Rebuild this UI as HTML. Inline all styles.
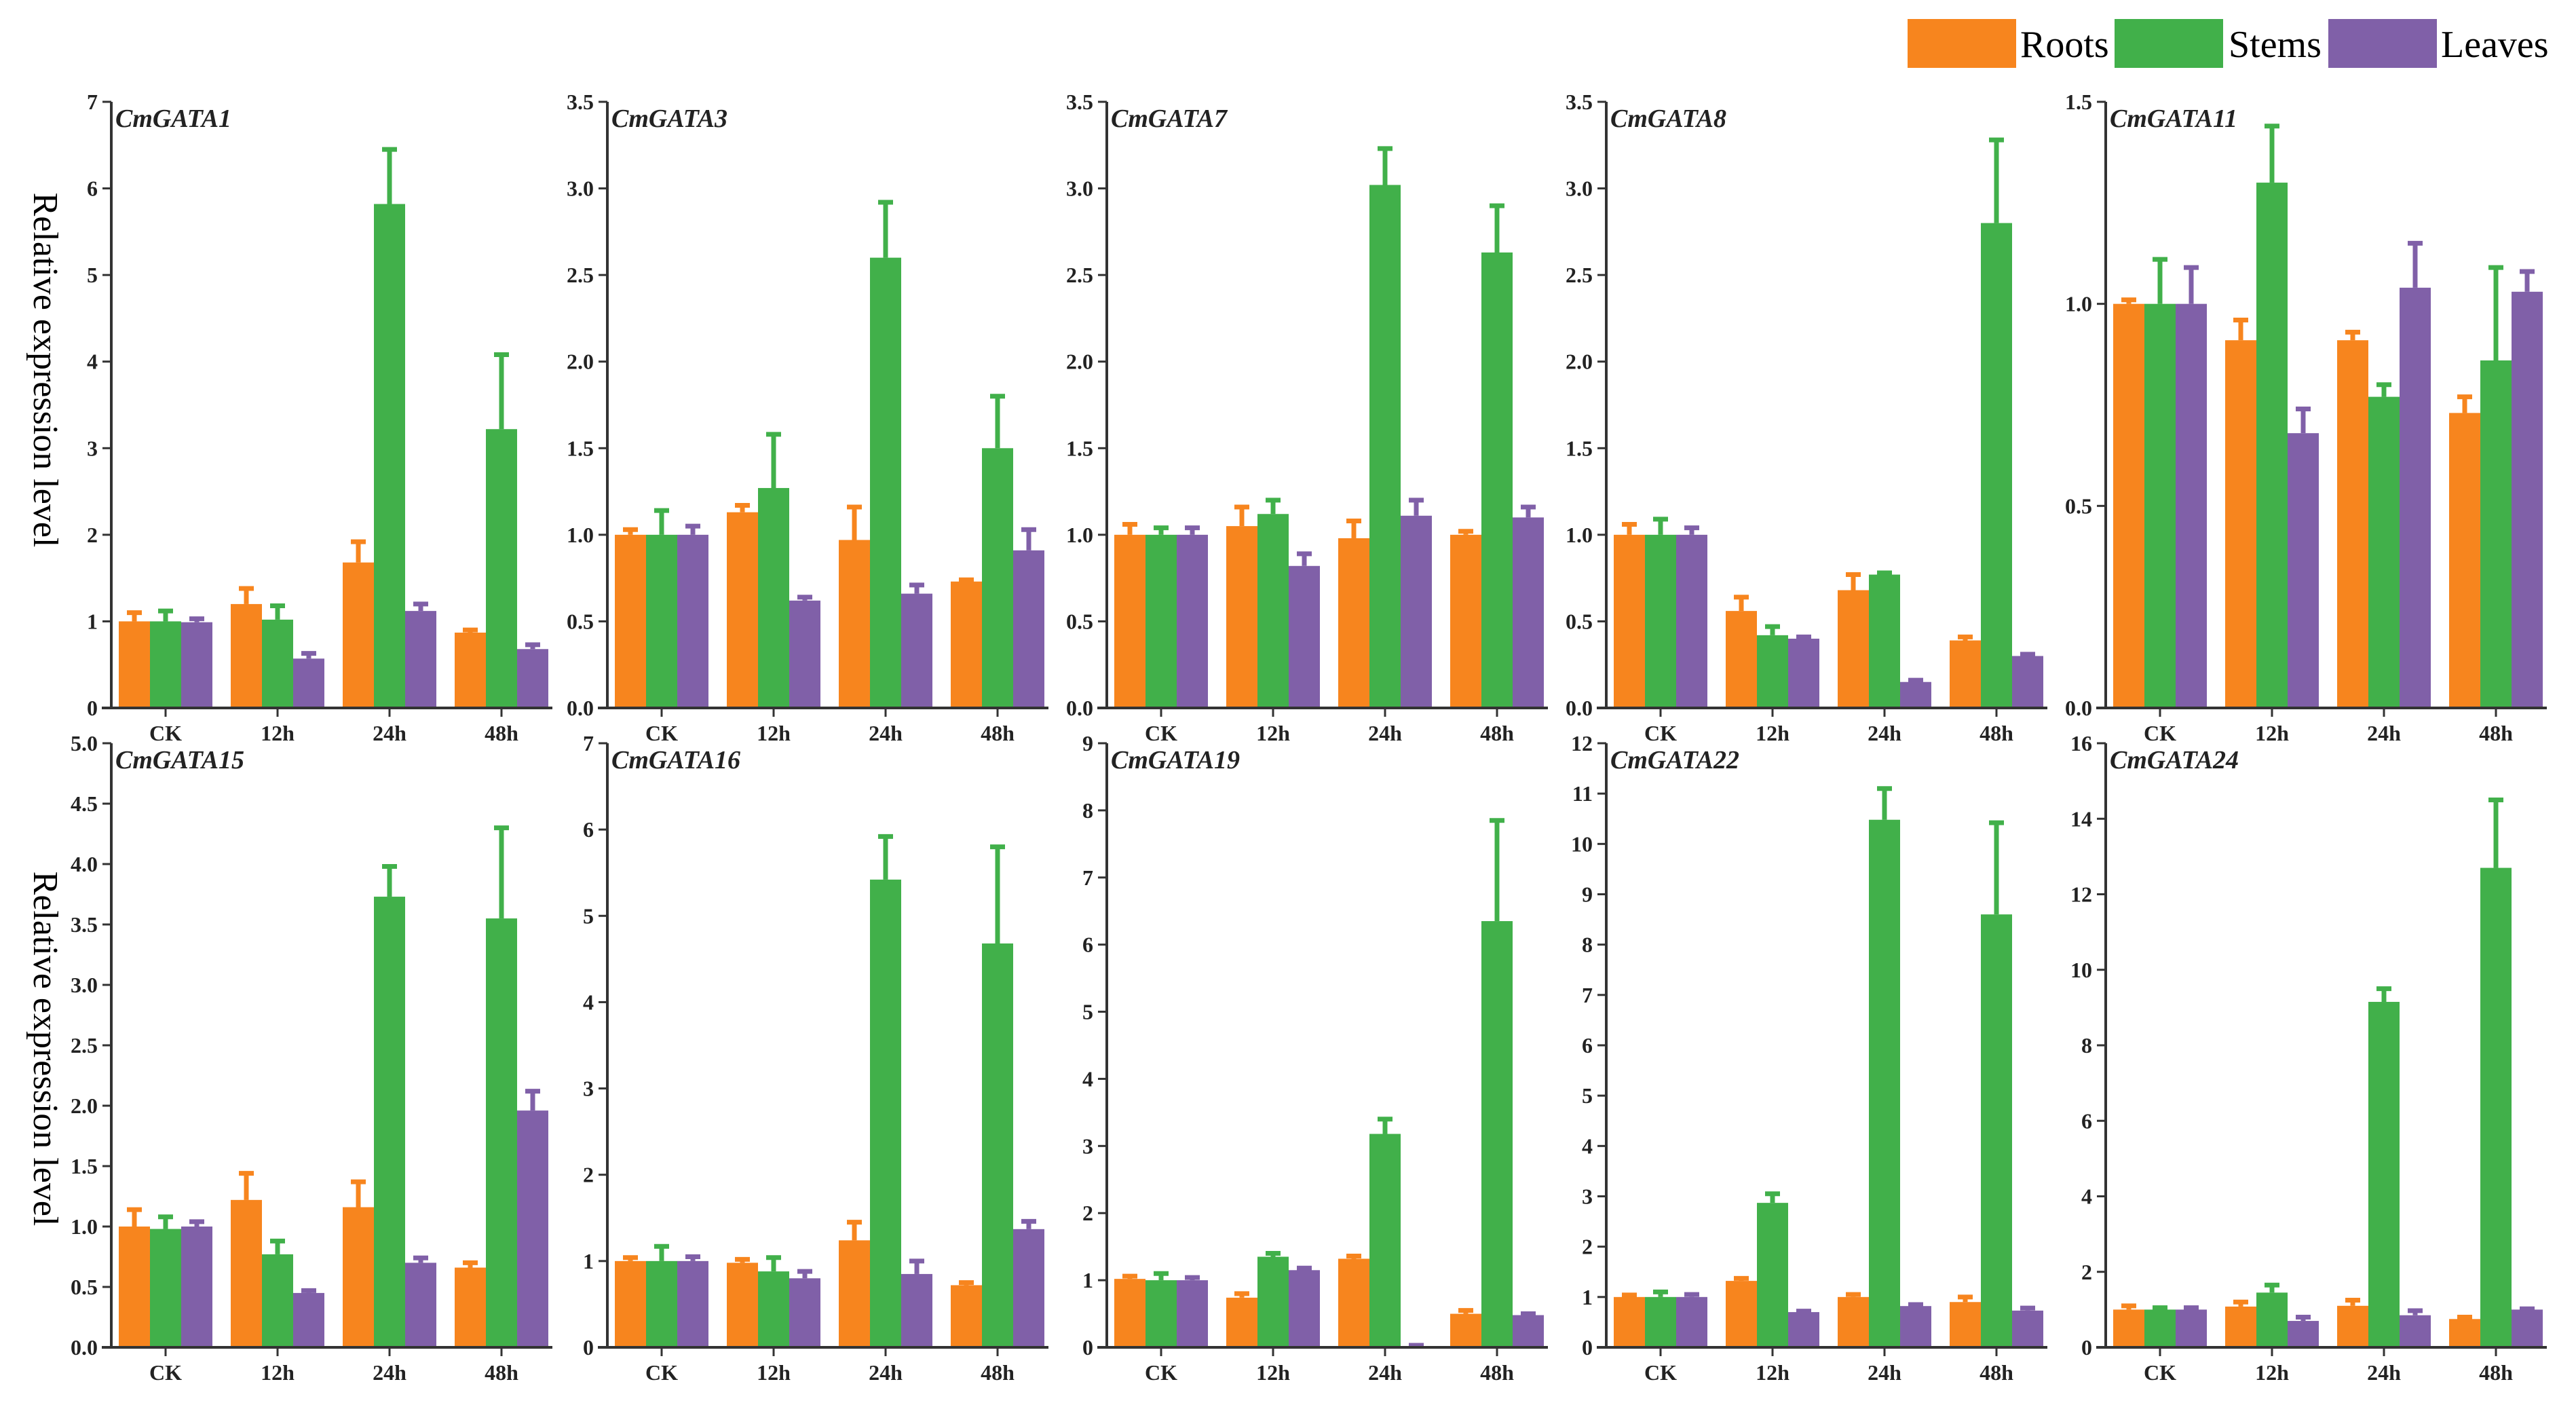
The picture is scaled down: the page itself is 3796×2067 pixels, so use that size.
<!DOCTYPE html>
<html><head><meta charset="utf-8"><style>
html,body{margin:0;padding:0;background:#fff;}
svg{display:block;}
svg text{font-family:"Liberation Serif","Times New Roman",serif;}
</style></head><body>
<svg id="chart" width="3796" height="2067" viewBox="0 0 3796 2067" xmlns="http://www.w3.org/2000/svg" font-family="Liberation Serif, serif">
<g id="legend">
  <rect x="2811" y="28" width="160" height="72" fill="#F7851E"/>
  <text x="2977" y="84" font-size="56">Roots</text>
  <rect x="3116" y="28" width="160" height="72" fill="#41B04A"/>
  <text x="3284" y="84" font-size="56">Stems</text>
  <rect x="3431" y="28" width="160" height="72" fill="#8060A8"/>
  <text x="3597" y="84" font-size="56">Leaves</text>
</g>
<text transform="translate(50,545) rotate(90)" text-anchor="middle" font-size="52">Relative expression level</text>
<text transform="translate(50,1545) rotate(90)" text-anchor="middle" font-size="52">Relative expression level</text>
</svg>
<script>
const categories = ["CK","12h","24h","48h"];
const geneNames = ["CmGATA1","CmGATA3","CmGATA7","CmGATA8","CmGATA11","CmGATA15","CmGATA16","CmGATA19","CmGATA22","CmGATA24"];
const axisMax = [7,3.5,3.5,3.5,1.5,5,7,9,12,16];
const axisStep = [1,0.5,0.5,0.5,0.5,0.5,1,1,1,2];
const axisDecimals = [0,1,1,1,1,1,0,0,0,0];
const rootsMean = [[1.0,1.2,1.68,0.87],[1.0,1.13,0.97,0.73],[1.0,1.05,0.98,1.0],[1.0,0.56,0.68,0.39],[1.0,0.91,0.91,0.73],[1.0,1.22,1.16,0.66],[1.0,0.98,1.24,0.72],[1.02,0.74,1.32,0.5],[1.0,1.32,1.0,0.9],[1.0,1.08,1.1,0.75]];
const rootsTop = [[1.1,1.38,1.92,0.9],[1.03,1.17,1.16,0.74],[1.06,1.16,1.08,1.02],[1.06,0.64,0.77,0.41],[1.01,0.96,0.93,0.77],[1.14,1.44,1.37,0.7],[1.04,1.02,1.45,0.75],[1.06,0.8,1.36,0.55],[1.04,1.37,1.05,1.0],[1.1,1.2,1.25,0.8]];
const stemsMean = [[1.0,1.02,5.82,3.22],[1.0,1.27,2.6,1.5],[1.0,1.12,3.02,2.63],[1.0,0.42,0.77,2.8],[1.0,1.3,0.77,0.86],[0.98,0.77,3.73,3.55],[1.0,0.88,5.42,4.68],[1.0,1.35,3.18,6.35],[1.0,2.87,10.48,8.6],[1.0,1.45,9.15,12.7]];
const stemsTop = [[1.12,1.18,6.45,4.08],[1.14,1.58,2.92,1.8],[1.04,1.2,3.23,2.9],[1.09,0.47,0.78,3.28],[1.11,1.44,0.8,1.09],[1.08,0.88,3.98,4.3],[1.17,1.04,5.92,5.8],[1.1,1.4,3.4,7.85],[1.1,3.05,11.1,10.42],[1.05,1.65,9.5,14.5]];
const leavesMean = [[0.99,0.57,1.12,0.68],[1.0,0.62,0.66,0.91],[1.0,0.82,1.11,1.1],[1.0,0.4,0.15,0.3],[1.0,0.68,1.04,1.03],[1.0,0.45,0.7,1.96],[1.0,0.8,0.85,1.37],[1.0,1.15,0.02,0.48],[1.0,0.7,0.82,0.73],[1.0,0.7,0.85,1.0]];
const leavesTop = [[1.03,0.63,1.2,0.73],[1.05,0.64,0.71,1.03],[1.04,0.89,1.2,1.16],[1.04,0.41,0.16,0.31],[1.09,0.74,1.15,1.08],[1.04,0.47,0.74,2.12],[1.05,0.88,1.0,1.46],[1.04,1.18,0.03,0.5],[1.05,0.72,0.85,0.78],[1.05,0.8,0.97,1.02]];

const NS = "http://www.w3.org/2000/svg";
const svg = document.getElementById('chart');
const colors = ["#F7851E","#41B04A","#8060A8"];
const seriesNames = ["roots","stems","leaves"];
const panelX = [164,895,1631,2367,3103];
const rowTop = [150,1095];
const rowZero = [1043,1985];
const axisW = 650, barW = 46;

function mk(tag, attrs, parent){
  const e = document.createElementNS(NS, tag);
  for (const k in attrs) e.setAttribute(k, attrs[k]);
  parent.appendChild(e);
  return e;
}

for (let p = 0; p < 10; p++) {
  const row = p < 5 ? 0 : 1;
  const x0 = panelX[p % 5];
  const top = rowTop[row], zero = rowZero[row];
  const max = axisMax[p];
  const yScale = v => zero - (v / max) * (zero - top);
  const xCenter = i => x0 + 80 + i * 165;
  const g = mk('g', {}, svg);
  
  

  const sets = [[rootsMean[p], rootsTop[p]], [stemsMean[p], stemsTop[p]], [leavesMean[p], leavesTop[p]]];
  for (let s = 0; s < 3; s++) {
    for (let i = 0; i < 4; i++) {
      const cx = xCenter(i) + (s - 1) * barW;
      const yv = yScale(sets[s][0][i]);
      const yt = yScale(sets[s][1][i]);
      const ln = mk('line', {x1: cx, x2: cx, y1: yv, y2: yt, stroke: colors[s], 'stroke-width': 7}, g);
      
      
      const cap = mk('line', {x1: cx - 11, x2: cx + 11, y1: yt, y2: yt, stroke: colors[s], 'stroke-width': 7}, g);
      
      
      const r = mk('rect', {x: cx - barW / 2, y: yv, width: barW, height: zero - yv, fill: colors[s]}, g);
      
      
    }
  }
  const ya = mk('line', {x1: x0, x2: x0, y1: top, y2: zero, stroke: '#333', 'stroke-width': 4}, g);
  
  
  const xa = mk('line', {x1: x0 - 14, x2: x0 + axisW, y1: zero, y2: zero, stroke: '#333', 'stroke-width': 4}, g);
  
  
  const nT = Math.round(max / axisStep[p]);
  for (let t = 0; t <= nT; t++) {
    const v = t * axisStep[p];
    const y = yScale(v);
    mk('line', {x1: x0 - 13, x2: x0, y1: y, y2: y, stroke: '#333', 'stroke-width': 3}, g);
    const tl = mk('text', {x: x0 - 20, y: y + 11, 'text-anchor': 'end', 'font-size': 32, 'font-weight': 'bold', fill: '#222'}, g);
    
    
    tl.textContent = v.toFixed(axisDecimals[p]);
  }
  for (let i = 0; i < 4; i++) {
    const cx = xCenter(i);
    mk('line', {x1: cx, x2: cx, y1: zero, y2: zero + 13, stroke: '#333', 'stroke-width': 3}, g);
    const xl = mk('text', {x: cx, y: zero + 48, 'text-anchor': 'middle', 'font-size': 32, 'font-weight': 'bold', fill: '#222'}, g);
    
    
    xl.textContent = categories[i];
  }
  const tt = mk('text', {x: x0 + 6, y: top + 37, 'font-size': 38, 'font-style': 'italic', 'font-weight': 'bold', fill: '#222'}, g);
  
  
  tt.textContent = geneNames[p];
}
</script>
</body></html>
